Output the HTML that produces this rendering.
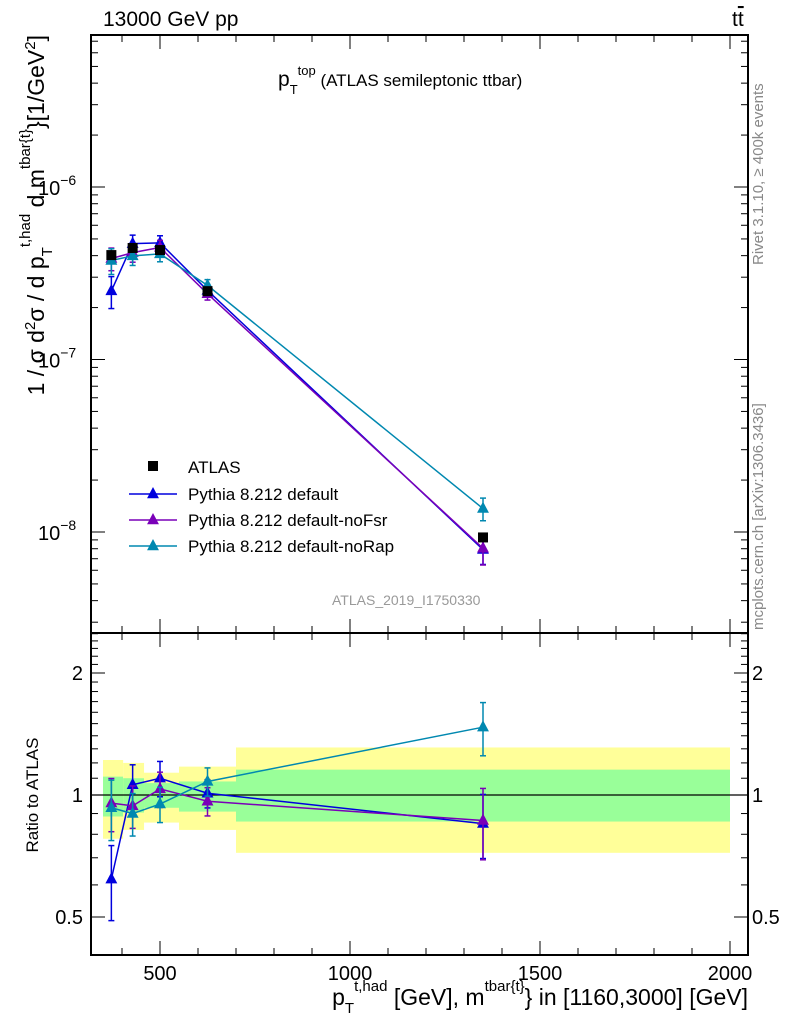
<!DOCTYPE html>
<html><head><meta charset="utf-8"><style>
body{margin:0;background:#fff;}
svg{display:block;font-family:"Liberation Sans",sans-serif;}
</style></head><body>
<svg id="c" width="786" height="1024" viewBox="0 0 786 1024"></svg>
<script>
const categories=[372,428,500,625,1350];
const binEdges=[350,403,458,550,700,2000];
const atlasValues=[4.03e-7,4.43e-7,4.31e-7,2.49e-7,9.3e-9];
const ratioDefault=[0.62,1.06,1.10,1.01,0.85];
const ratioNoFsr=[0.955,0.94,1.035,0.965,0.865];
const ratioNoRap=[0.93,0.90,0.95,1.08,1.47];
const errDefault=[0.21,0.12,0.1,0.08,0.18];
const errNoFsr=[0.15,0.12,0.1,0.08,0.2];
const errNoRap=[0.17,0.12,0.1,0.08,0.15];
const bandTotalUp=[1.22,1.2,1.135,1.175,1.31];
const bandTotalDn=[0.78,0.82,0.855,0.82,0.72];
const bandStatUp=[1.11,1.1,1.07,1.08,1.155];
const bandStatDn=[0.885,0.905,0.93,0.91,0.86];
const xTicks=[500,1000,1500,2000];
const mainTickExp=[-6,-7,-8];
const ratioTicks=[0.5,1,2];

const svg=document.getElementById('c');
const NS='http://www.w3.org/2000/svg';
function mk(tag,attrs,parent){const e=document.createElementNS(NS,tag);for(const k in attrs)e.setAttribute(k,attrs[k]);(parent||svg).appendChild(e);return e;}
const L=91,R=748,T=35,M=633,B=955;
const X=v=>-30+0.38*v;
const Y=v=>187+172.5*(-6-Math.log10(v));
const YR=v=>795-122*Math.log2(v);

const bands=mk('g',{});


for(let i=0;i<5;i++){
  const x0=X(binEdges[i]),x1=X(binEdges[i+1]);
  const r1=mk('rect',{x:x0,y:YR(bandTotalUp[i]),width:x1-x0,height:YR(bandTotalDn[i])-YR(bandTotalUp[i]),fill:'#ffff99'},bands);
  
  
  const r2=mk('rect',{x:x0,y:YR(bandStatUp[i]),width:x1-x0,height:YR(bandStatDn[i])-YR(bandStatUp[i]),fill:'#99ff99'},bands);
  
  
}
mk('line',{x1:L,x2:R,y1:YR(1),y2:YR(1),stroke:'#000','stroke-width':1.2});

const f1=mk('rect',{x:L,y:T,width:R-L,height:M-T,fill:'none',stroke:'#000','stroke-width':2});


const f2=mk('rect',{x:L,y:M,width:R-L,height:B-M,fill:'none',stroke:'#000','stroke-width':2});



for(let v=400;v<=2000;v+=100){
  const x=X(v);if(x<L||x>R)continue;
  const maj=v%500===0,len=maj?14:7;
  [T,M].forEach(y=>mk('line',{x1:x,x2:x,y1:y,y2:y+len,stroke:'#000','stroke-width':1}));
  [M,B].forEach(y=>mk('line',{x1:x,x2:x,y1:y,y2:y-len,stroke:'#000','stroke-width':1}));
}
xTicks.forEach(v=>{const t=mk('text',{x:X(v),y:980,'font-size':20,'text-anchor':'middle'});t.textContent=v;
});

for(let e=-9;e<=-5;e++){for(let m=1;m<10;m++){const v=m*Math.pow(10,e);const y=Y(v);if(y<T||y>M)continue;
  const len=m===1?14:7;
  mk('line',{x1:L,x2:L+len,y1:y,y2:y,stroke:'#000'});mk('line',{x1:R,x2:R-len,y1:y,y2:y,stroke:'#000'});}}
mainTickExp.forEach(e=>{const y=Y(Math.pow(10,e));const t=mk('text',{x:38,y:y+8,'font-size':20});
t.innerHTML='10<tspan dy="-10" font-size="14">'+(e<0?'\u2212'+(-e):e)+'</tspan>';
});

[0.5,0.6,0.7,0.8,0.9,1,1.1,1.2,1.3,1.4,1.5,1.6,1.7,1.8,1.9,2,2.1,2.2,2.3,2.4,2.5].forEach(v=>{const y=YR(v);if(y<M||y>B)return;
  const len=(v===0.5||v===1||v===2)?14:7;
  mk('line',{x1:L,x2:L+len,y1:y,y2:y,stroke:'#000'});mk('line',{x1:R,x2:R-len,y1:y,y2:y,stroke:'#000'});});
ratioTicks.forEach(v=>{const y=YR(v)+7;
  const t=mk('text',{x:83,y:y,'font-size':20,'text-anchor':'end'});t.textContent=v;
  
  const t2=mk('text',{x:752,y:y,'font-size':20});t2.textContent=v;
  });

function tri(x,y,c,g,s){mk('polygon',{points:`${x},${y-s} ${x-s*0.85},${y+s*0.6} ${x+s*0.85},${y+s*0.6}`,fill:c},g);}
const series=[
 {name:'default',c:'#0000dd',r:ratioDefault,e:errDefault},
 {name:'noFsr',c:'#7a00b8',r:ratioNoFsr,e:errNoFsr},
 {name:'noRap',c:'#0088b0',r:ratioNoRap,e:errNoRap}];
series.forEach(s=>{
  ['main','ratio'].forEach(p=>{
    const g=mk('g',{});
    
    
    const ys=categories.map((c,i)=>p==='main'?Y(s.r[i]*atlasValues[i]):YR(s.r[i]));
    mk('polyline',{points:categories.map((c,i)=>X(c)+','+ys[i]).join(' '),fill:'none',stroke:s.c,'stroke-width':1.5},g);
    categories.forEach((c,i)=>{
      const x=X(c);const up=s.r[i]*(1+s.e[i]),dn=s.r[i]*(1-s.e[i]);
      const y1=p==='main'?Y(up*atlasValues[i]):YR(up),y2=p==='main'?Y(dn*atlasValues[i]):YR(dn);
      mk('line',{x1:x,x2:x,y1:y1,y2:y2,stroke:s.c,'stroke-width':1.5},g);
      mk('line',{x1:x-3,x2:x+3,y1:y1,y2:y1,stroke:s.c,'stroke-width':1.5},g);
      mk('line',{x1:x-3,x2:x+3,y1:y2,y2:y2,stroke:s.c,'stroke-width':1.5},g);
      tri(x,ys[i],s.c,g,7);
    });
  });
});
const dg=mk('g',{});


categories.forEach((c,i)=>{const x=X(c),y=Y(atlasValues[i]);
  mk('line',{x1:x,x2:x,y1:Y(atlasValues[i]*1.05),y2:Y(atlasValues[i]*0.95),stroke:'#000'},dg);
  mk('rect',{x:x-5,y:y-5,width:10,height:10,fill:'#000'},dg);});

const lg=mk('g',{});


mk('rect',{x:148,y:461,width:10,height:10,fill:'#000'},lg);
let t=mk('text',{x:188,y:473,'font-size':17},lg);t.textContent='ATLAS';
const labs=['Pythia 8.212 default','Pythia 8.212 default-noFsr','Pythia 8.212 default-noRap'];
series.forEach((s,i)=>{const y=494+26*i;
  mk('line',{x1:129,x2:177,y1:y,y2:y,stroke:s.c,'stroke-width':1.5},lg);tri(153,y,s.c,lg,7);
  const tt=mk('text',{x:188,y:y+6,'font-size':17},lg);tt.textContent=labs[i];
  });

function txt(html,a,name){const e=mk('text',a);e.innerHTML=html;return e;}
txt('13000 GeV pp',{x:103,y:26,'font-size':21},'energy-label');
txt('t<tspan text-decoration="overline">t</tspan>',{x:732,y:26,'font-size':21},'process-label');
txt('p<tspan dy="8" font-size="13">T</tspan><tspan dy="-19" font-size="13">top</tspan><tspan dy="11" font-size="17"> (ATLAS semileptonic ttbar)</tspan>',{x:278,y:86,'font-size':21},'plot-title');
txt('ATLAS_2019_I1750330',{x:332,y:605,'font-size':14,fill:'#999'},'analysis-id');
txt('Rivet 3.1.10, \u2265 400k events',{x:0,y:0,'font-size':15,fill:'#888',transform:'translate(763,265) rotate(-90)'},'rivet-label');
txt('mcplots.cern.ch [arXiv:1306.3436]',{x:0,y:0,'font-size':15,fill:'#888',transform:'translate(763,630) rotate(-90)'},'mcplots-label');
txt('Ratio to ATLAS',{x:0,y:0,'font-size':17,'text-anchor':'middle',transform:'translate(38,795) rotate(-90)'},'ratio-y-axis-title');
txt('1 / \u03c3 d<tspan dy="-9" font-size="15">2</tspan><tspan dy="9">\u03c3 / d p</tspan><tspan dy="8" font-size="15">T</tspan><tspan dy="-22" font-size="15">t,had</tspan><tspan dy="14"> d m</tspan><tspan dy="-14" font-size="15">tbar{t}</tspan><tspan dy="14">}[1/GeV</tspan><tspan dy="-9" font-size="15">2</tspan><tspan dy="9">]</tspan>',{x:0,y:0,'font-size':23,'text-anchor':'end',transform:'translate(44,35) rotate(-90)'},'y-axis-title');
txt('p<tspan dy="8" font-size="15">T</tspan><tspan dy="-22" font-size="15">t,had</tspan><tspan dy="14"> [GeV], m</tspan><tspan dy="-14" font-size="15">tbar{t}</tspan><tspan dy="14">} in [1160,3000] [GeV]</tspan>',{x:748,y:1005,'font-size':23,'text-anchor':'end'},'x-axis-title');
</script>
</body></html>
